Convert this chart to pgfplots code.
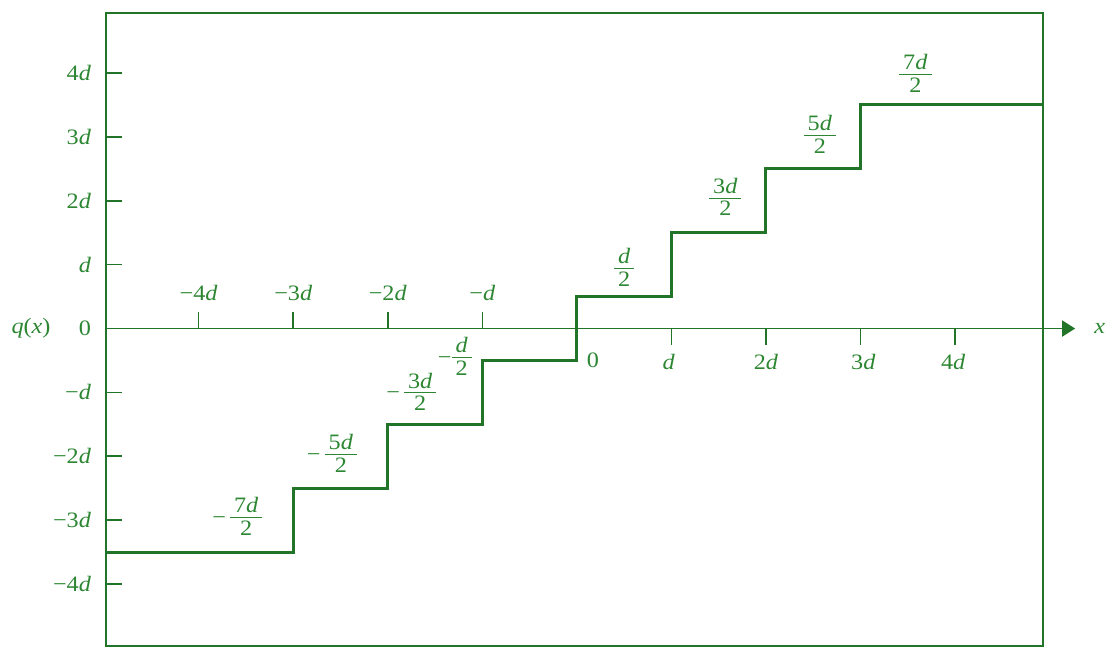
\documentclass[border=0pt]{standalone}
\usepackage{fontspec}
\setmainfont{Liberation Serif}
\usepackage{graphicx}
\usepackage{pgfplots}
\pgfplotsset{compat=1.18}
\usetikzlibrary{arrows.meta}
\definecolor{ink}{RGB}{34,116,40}
\definecolor{txt}{RGB}{44,134,50}
\tikzset{tk/.style={ink, line width=0.8pt}}
\newcommand{\dd}{\textit{d}}
% slightly wide lettering
\newcommand{\w}[1]{\scalebox{1.1}[1]{#1}}
% half-step level label: numerator over 2
\newcommand{\fr}[1]{\begin{tabular}{@{\,}c@{\,}}#1\\[-1.6pt]\hline 2\end{tabular}}
\begin{document}
\begin{tikzpicture}[every node/.style={txt, font=\fontsize{11}{12.5}\selectfont}]
\useasboundingbox (0,0) rectangle (553pt,323.5pt);
\begin{axis}[
  scale only axis, width=468.5pt, height=316.5pt,
  at={(53pt,0.5pt)}, anchor=south west,
  xmin=-4.98, xmax=4.93, ymin=-4.97, ymax=4.94,
  axis line style={ink, line width=0.9pt},
  xtick=\empty,
  ytick={-4,-3,-2,-1,0,1,2,3,4},
  yticklabels={\w{−4\dd}, \w{−3\dd}, \w{−2\dd}, \w{−\dd}, \w{0}, \w{\dd}, \w{2\dd}, \w{3\dd}, \w{4\dd}},
  ytick pos=left, tick align=inside, major tick length=8pt,
  tick style={ink, line width=0.8pt},
  yticklabel style={txt, font=\fontsize{11}{12.5}\selectfont, xshift=-4pt},
  clip=false,
]
% quantizer staircase
\addplot[ink, line width=1.5pt, const plot] coordinates {
  (-4.98,-3.5) (-3,-2.5) (-2,-1.5) (-1,-0.5) (0,0.5) (1,1.5) (2,2.5) (3,3.5) (4.93,3.5)};

% horizontal axis with arrow
\draw[ink, line width=0.9pt, -{Triangle[length=6.5pt,width=8pt]}]
  (axis cs:-4.98,0) -- (axis cs:5.27,0);
\node at (axis cs:5.53,0) {\w{\textit{x}}};
\node at (axis cs:-4.98,0) [xshift=-37.5pt] {\w{\textit{q}(\textit{x})}};

% ticks on the input axis
\draw[tk] (axis cs:-4,0) -- ++(0pt,8.5pt);
\draw[tk] (axis cs:-3,0) -- ++(0pt,8.5pt);
\draw[tk] (axis cs:-2,0) -- ++(0pt,8.5pt);
\draw[tk] (axis cs:-1,0) -- ++(0pt,8.5pt);
\draw[tk] (axis cs:1,0) -- ++(0pt,-8pt);
\draw[tk] (axis cs:2,0) -- ++(0pt,-8pt);
\draw[tk] (axis cs:3,0) -- ++(0pt,-8pt);
\draw[tk] (axis cs:4,0) -- ++(0pt,-8pt);
\node at (axis cs:-4,0) [yshift=18pt] {\w{−4\dd}};
\node at (axis cs:-3,0) [yshift=18pt] {\w{−3\dd}};
\node at (axis cs:-2,0) [yshift=18pt] {\w{−2\dd}};
\node at (axis cs:-1,0) [yshift=18pt] {\w{−\dd}};
\node at (axis cs:0.17,0) [yshift=-16pt] {\w{0}};
\node at (axis cs:0.97,0) [yshift=-16.5pt] {\w{\dd}};
\node at (axis cs:2,0) [yshift=-16.5pt] {\w{2\dd}};
\node at (axis cs:3.03,0) [yshift=-16.5pt] {\w{3\dd}};
\node at (axis cs:3.98,0) [yshift=-16.5pt] {\w{4\dd}};

% output levels
\node at (axis cs:-3.59,-2.98) {\w{−\,\fr{7\dd}}};
\node at (axis cs:-2.59,-2.00) {\w{−\,\fr{5\dd}}};
\node at (axis cs:-1.75,-1.03) {\w{−\,\fr{3\dd}}};
\node at (axis cs:-1.29,-0.48) {\w{−\fr{\dd}}};
\node at (axis cs:0.50,0.92) {\w{\fr{\dd}}};
\node at (axis cs:1.57,2.02) {\w{\fr{3\dd}}};
\node at (axis cs:2.57,3.00) {\w{\fr{5\dd}}};
\node at (axis cs:3.58,3.95) {\w{\fr{7\dd}}};
\end{axis}
\end{tikzpicture}
\end{document}
